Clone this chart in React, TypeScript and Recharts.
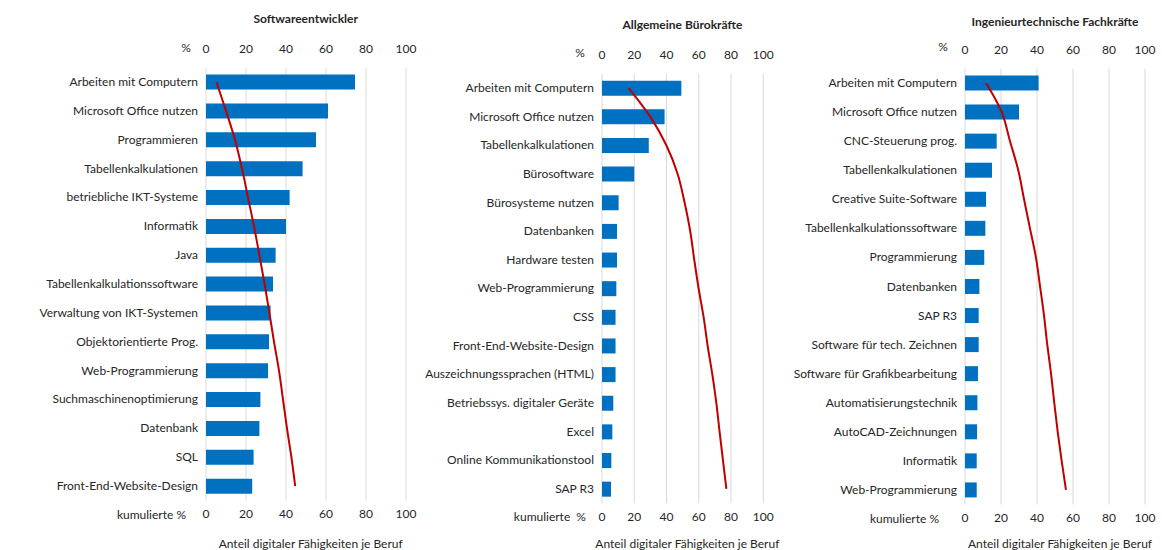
import React from "react";
import {
  ComposedChart,
  Bar,
  Line,
  XAxis,
  YAxis,
  CartesianGrid,
} from "recharts";

const FONT = "Lato, 'Noto Sans', sans-serif";
const BAR_COLOR = "#0070c0";
const LINE_COLOR = "#c00000";
const TICKS = [0, 20, 40, 60, 80, 100];

// Softwareentwickler
const SW_SKILLS = [
  "Arbeiten mit Computern",
  "Microsoft Office nutzen",
  "Programmieren",
  "Tabellenkalkulationen",
  "betriebliche IKT-Systeme",
  "Informatik",
  "Java",
  "Tabellenkalkulationssoftware",
  "Verwaltung von IKT-Systemen",
  "Objektorientierte Prog.",
  "Web-Programmierung",
  "Suchmaschinenoptimierung",
  "Datenbank",
  "SQL",
  "Front-End-Website-Design",
];
const SW_SHARE = [74.5, 61, 55, 48.3, 41.8, 40, 34.8, 33.5, 32.3, 31.5, 31, 27.2, 26.7, 23.8, 23.1];
const SW_CUM = [5.2, 10, 14.5, 18, 21, 24, 26.7, 29.3, 31.7, 34, 36.5, 38.5, 40.5, 42.7, 44.6];

// Allgemeine Bürokräfte
const BK_SKILLS = [
  "Arbeiten mit Computern",
  "Microsoft Office nutzen",
  "Tabellenkalkulationen",
  "Bürosoftware",
  "Bürosysteme nutzen",
  "Datenbanken",
  "Hardware testen",
  "Web-Programmierung",
  "CSS",
  "Front-End-Website-Design",
  "Auszeichnungssprachen (HTML)",
  "Betriebssys. digitaler Geräte",
  "Excel",
  "Online Kommunikationstool",
  "SAP R3",
];
const BK_SHARE = [49.2, 38.8, 29, 20, 10.3, 9.3, 9.3, 8.9, 8.4, 8.4, 8.4, 7, 6.4, 5.8, 5.6];
const BK_CUM = [16.5, 29.9, 39.9, 46.9, 51.2, 54.7, 57.2, 59.9, 63, 65.5, 68.4, 70.9, 72.9, 75, 77.1];

// Ingenieurtechnische Fachkräfte
const IF_SKILLS = [
  "Arbeiten mit Computern",
  "Microsoft Office nutzen",
  "CNC-Steuerung prog.",
  "Tabellenkalkulationen",
  "Creative Suite-Software",
  "Tabellenkalkulationssoftware",
  "Programmierung",
  "Datenbanken",
  "SAP R3",
  "Software für tech. Zeichnen",
  "Software für Grafikbearbeitung",
  "Automatisierungstechnik",
  "AutoCAD-Zeichnungen",
  "Informatik",
  "Web-Programmierung",
];
const IF_SHARE = [40.9, 30, 17.6, 15, 11.7, 11.3, 10.7, 8, 7.6, 7.6, 7.2, 6.9, 6.7, 6.5, 6.5];
const IF_CUM = [11.7, 20.4, 25, 29.6, 32.8, 36.1, 39.4, 41.7, 43.9, 45.7, 47.8, 49.6, 51.5, 53.7, 56.1];

type PanelProps = {
  title: string;
  skills: string[];
  share: number[];
  cum: number[];
  plotLeft: number;
  plotWidth: number;
  plotTop: number;
  plotHeight: number;
  yAxisWidth: number;
  titleY: number;
  pctY: number;
  pctX: number;
  cumRight: number;
  bottomY: number;
  cumLabel: string;
};

const AXIS_H = 30;
const H = 550;

function Text({ x, y, children, bold, anchor = "middle" }: any) {
  const tx = anchor === "middle" ? "-50%" : anchor === "end" ? "-100%" : "0";
  return (
    <div
      style={{
        position: "absolute",
        left: x,
        top: y,
        transform: `translate(${tx}, -50%)`,
        whiteSpace: "pre",
        fontFamily: FONT,
        fontSize: 12,
        fontWeight: bold ? 700 : 400,
        color: "#262626",
      }}
    >
      {children}
    </div>
  );
}

// category label on one line, no wrapping
function SkillTick({ x, y, payload }: any) {
  return (
    <text
      x={x}
      y={y}
      dy={4}
      textAnchor="end"
      fontSize={12}
      fontFamily={FONT}
      fill="#262626"
    >
      {payload.value}
    </text>
  );
}

function Panel(p: PanelProps) {
  const data = p.skills.map((name, i) => ({ name, share: p.share[i], cum: p.cum[i] }));
  const chartLeft = p.plotLeft - p.yAxisWidth;
  const width = p.yAxisWidth + p.plotWidth + 20;
  const tickStyle = { fontSize: 12, fill: "#262626", fontFamily: FONT };
  const center = p.plotLeft + p.plotWidth / 2;
  return (
    <>
      <div style={{ position: "absolute", left: chartLeft, top: 0 }}>
        <ComposedChart
          layout="vertical"
          width={width}
          height={H}
          data={data}
          margin={{
            top: p.plotTop - AXIS_H,
            left: 0,
            right: 20,
            bottom: H - p.plotTop - p.plotHeight - AXIS_H,
          }}
        >
          <CartesianGrid xAxisId="top" horizontal={false} stroke="#d9d9d9" />
          <XAxis
            xAxisId="top"
            orientation="top"
            type="number"
            domain={[0, 100]}
            ticks={TICKS}
            height={AXIS_H}
            axisLine={false}
            tickLine={false}
            tickSize={0}
            tickMargin={15}
            tick={tickStyle}
          />
          <XAxis
            xAxisId="bottom"
            orientation="bottom"
            type="number"
            domain={[0, 100]}
            ticks={TICKS}
            height={AXIS_H}
            axisLine={false}
            tickLine={false}
            tickSize={0}
            tickMargin={9}
            tick={tickStyle}
          />
          <YAxis
            type="category"
            dataKey="name"
            width={p.yAxisWidth}
            axisLine={false}
            tickLine={false}
            tickSize={0}
            tickMargin={8}
            interval={0}
            tick={<SkillTick />}
          />
          <Bar
            xAxisId="top"
            dataKey="share"
            fill={BAR_COLOR}
            barSize={15}
            isAnimationActive={false}
          />
          <Line
            xAxisId="bottom"
            dataKey="cum"
            type="monotone"
            stroke={LINE_COLOR}
            strokeWidth={2}
            dot={false}
            isAnimationActive={false}
          />
        </ComposedChart>
      </div>
      <Text x={center} y={p.titleY} bold>
        {p.title}
      </Text>
      <Text x={p.pctX} y={p.pctY}>
        %
      </Text>
      <Text x={p.cumRight} y={p.bottomY} anchor="end">
        {p.cumLabel}
      </Text>
      <Text x={center + 5} y={543}>
        Anteil digitaler Fähigkeiten je Beruf
      </Text>
    </>
  );
}

export default function App() {
  return (
    <div
      style={{
        position: "absolute",
        left: 0,
        top: 0,
        width: 1162,
        height: H,
        background: "#fff",
        overflow: "hidden",
      }}
    >
      <Panel
        title="Softwareentwickler"
        skills={SW_SKILLS}
        share={SW_SHARE}
        cum={SW_CUM}
        plotLeft={205.7}
        plotWidth={200}
        plotTop={67.6}
        plotHeight={432.9}
        yAxisWidth={200}
        titleY={18}
        pctX={186}
        pctY={47}
        cumRight={186}
        bottomY={514}
        cumLabel="kumulierte %"
      />
      <Panel
        title="Allgemeine Bürokräfte"
        skills={BK_SKILLS}
        share={BK_SHARE}
        cum={BK_CUM}
        plotLeft={601.7}
        plotWidth={161.3}
        plotTop={73.7}
        plotHeight={429.6}
        yAxisWidth={200}
        titleY={24}
        pctX={580}
        pctY={52}
        cumRight={586}
        bottomY={516}
        cumLabel="kumulierte  %"
      />
      <Panel
        title="Ingenieurtechnische Fachkräfte"
        skills={IF_SKILLS}
        share={IF_SHARE}
        cum={IF_CUM}
        plotLeft={965}
        plotWidth={180}
        plotTop={68.5}
        plotHeight={436}
        yAxisWidth={200}
        titleY={21}
        pctX={943}
        pctY={46}
        cumRight={939}
        bottomY={518}
        cumLabel="kumulierte %"
      />
    </div>
  );
}
